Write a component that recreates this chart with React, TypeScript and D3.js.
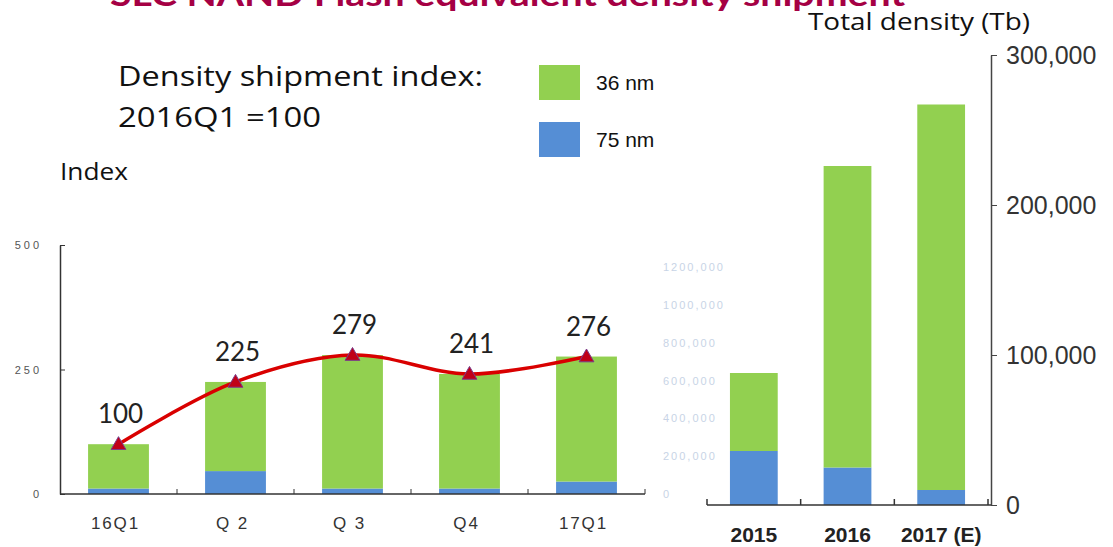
import React, { useRef, useEffect } from 'react';
import * as d3 from 'd3';

// left chart: quarterly density shipment index (2016Q1 = 100)
const quarters = ['16Q1', 'Q 2', 'Q 3', 'Q4', '17Q1'];
const quarter75 = [11, 46, 11, 11, 25];
const quarter36 = [89, 179, 268, 230, 251];
const indexValues = [100, 225, 279, 241, 276];
const leftTicks = [0, 250, 500];

// right chart: yearly total density (Tb)
const years = ['2015', '2016', '2017 (E)'];
const year75 = [36000, 25000, 10000];
const year36 = [52000, 201000, 257000];
const rightTicks = [0, 100000, 200000, 300000];

// faint leftover tick labels between the two charts
const ghostTicks = [0, 200000, 400000, 600000, 800000, 1000000, 1200000];
const ghostLabels = ['0', '200,000', '400,000', '600,000', '800,000', '1000,000', '1200,000'];

const GREEN = '#92D050';
const BLUE = '#558ED5';
const SANS = '"Open Sans", Lato, sans-serif';
const LATO = 'Lato, "Open Sans", sans-serif';
const ARIAL = '"Liberation Sans", Arial, sans-serif';

const App = () => {
    const svgRef = useRef<SVGSVGElement>(null);

    useEffect(() => {
        const svg = d3.select(svgRef.current);
        svg.selectAll('*').remove();

        // title (cut off at the top, as in the source slide)
        svg.append('text')
            .attr('x', 110).attr('y', 6)
            .attr('font-family', LATO).attr('font-weight', 'bold').attr('font-size', 32)
            .attr('fill', '#A50044')
            .attr('textLength', 795).attr('lengthAdjust', 'spacingAndGlyphs')
            .text('SLC NAND Flash equivalent density shipment');

        // annotations
        const note = svg.append('g').attr('font-family', SANS).attr('fill', '#111');
        note.append('text').attr('x', 118).attr('y', 86).attr('font-size', 28)
            .attr('textLength', 365).attr('lengthAdjust', 'spacingAndGlyphs').text('Density shipment index:');
        note.append('text').attr('x', 118).attr('y', 127).attr('font-size', 28)
            .attr('textLength', 203).attr('lengthAdjust', 'spacingAndGlyphs').text('2016Q1 =100');
        note.append('text').attr('x', 60).attr('y', 180).attr('font-size', 23)
            .attr('textLength', 68).attr('lengthAdjust', 'spacingAndGlyphs').text('Index');
        note.append('text').attr('x', 808).attr('y', 30).attr('font-size', 23)
            .attr('textLength', 222).attr('lengthAdjust', 'spacingAndGlyphs').text('Total density (Tb)');

        // legend
        const legend = svg.append('g').attr('font-family', ARIAL).attr('font-size', 21).attr('fill', '#111');
        [['36 nm', GREEN, 65], ['75 nm', BLUE, 122]].forEach(([label, color, y]) => {
            legend.append('rect').attr('x', 539).attr('y', y as number).attr('width', 41).attr('height', 35)
                .attr('fill', color as string);
            legend.append('text').attr('x', 596).attr('y', (y as number) + 25).text(label as string);
        });

        // ---- left chart ----
        const xL = d3.scaleBand().domain(quarters).range([60, 645]).paddingInner(0.48).paddingOuter(0.24);
        const yL = d3.scaleLinear().domain([0, 500]).range([494, 245]);

        const leftData = quarters.map((q, i) => ({ name: q, nm75: quarter75[i], nm36: quarter36[i] }));
        const stack = d3.stack<any>().keys(['nm75', 'nm36']);
        const leftSeries = stack(leftData);
        const colorOf = { nm75: BLUE, nm36: GREEN } as Record<string, string>;

        const gL = svg.append('g');
        leftSeries.forEach((s) => {
            gL.append('g').attr('fill', colorOf[s.key])
                .selectAll('rect').data(s).join('rect')
                .attr('x', (d: any) => xL(d.data.name)!)
                .attr('width', xL.bandwidth())
                .attr('y', (d) => yL(d[1]))
                .attr('height', (d) => yL(d[0]) - yL(d[1]));
        });

        // y axis
        const yAxisL = gL.append('g').attr('transform', 'translate(60,0)')
            .call(d3.axisLeft(yL).tickValues(leftTicks).tickSizeInner(-5).tickSizeOuter(0).tickPadding(18));
        yAxisL.select('.domain').attr('stroke', '#333').attr('stroke-width', 1.5);
        yAxisL.selectAll('.tick line').attr('stroke', '#333');
        yAxisL.selectAll('.tick text').attr('font-family', ARIAL).attr('font-size', 11)
            .attr('letter-spacing', 3).attr('fill', '#555');

        // x axis with ticks at band boundaries
        const stepL = xL.step();
        gL.append('line').attr('x1', 60).attr('x2', 645).attr('y1', 494).attr('y2', 494)
            .attr('stroke', '#333').attr('stroke-width', 1.5);
        gL.selectAll('.bound').data(quarters).join('line').attr('class', 'bound')
            .attr('x1', (d) => xL(d)! + xL.bandwidth() / 2 + stepL / 2)
            .attr('x2', (d) => xL(d)! + xL.bandwidth() / 2 + stepL / 2)
            .attr('y1', 494).attr('y2', 489).attr('stroke', '#333');
        gL.selectAll('.xlab').data(quarters).join('text').attr('class', 'xlab')
            .attr('x', (d) => xL(d)! + xL.bandwidth() / 2 - 3)
            .attr('y', 529)
            .attr('text-anchor', 'middle')
            .attr('font-family', ARIAL).attr('font-size', 17).attr('letter-spacing', 1.8)
            .attr('fill', '#333')
            .text((d) => d);

        // index line
        const pts = quarters.map((q, i) => [xL(q)! + xL.bandwidth() / 2, yL(indexValues[i])] as [number, number]);
        gL.append('path')
            .attr('d', d3.line().curve(d3.curveCatmullRom.alpha(0.5))(pts)!)
            .attr('fill', 'none').attr('stroke', '#D90000').attr('stroke-width', 3.5);
        gL.selectAll('.mark').data(pts).join('path').attr('class', 'mark')
            .attr('transform', (d) => `translate(${d[0]},${d[1] + 1})`)
            .attr('d', d3.symbol().type(d3.symbolTriangle).size(95)()!)
            .attr('fill', '#C00018').attr('stroke', '#7A3A8A').attr('stroke-width', 1);
        gL.selectAll('.val').data(indexValues).join('text').attr('class', 'val')
            .attr('x', (d, i) => pts[i][0] + 2)
            .attr('y', (d, i) => pts[i][1] - 21)
            .attr('text-anchor', 'middle')
            .attr('font-family', LATO).attr('font-size', 26).attr('fill', '#222')
            .text((d) => d);

        // ghost labels
        const yG = d3.scaleLinear().domain([0, 1200000]).range([494, 267]);
        svg.append('g').selectAll('text').data(ghostTicks).join('text')
            .attr('x', 663).attr('y', (d) => yG(d) + 4)
            .attr('font-family', ARIAL).attr('font-size', 11).attr('letter-spacing', 2)
            .attr('fill', '#C8D4E6')
            .text((d, i) => ghostLabels[i]);

        // ---- right chart ----
        const xR = d3.scaleBand().domain(years).range([707, 988]).paddingInner(0.49).paddingOuter(0.245);
        const yR = d3.scaleLinear().domain([0, 300000]).range([505, 55]);
        const rightData = years.map((y, i) => ({ name: y, nm75: year75[i], nm36: year36[i] }));
        const rightSeries = stack(rightData);

        const gR = svg.append('g');
        rightSeries.forEach((s) => {
            gR.append('g').attr('fill', colorOf[s.key])
                .selectAll('rect').data(s).join('rect')
                .attr('x', (d: any) => xR(d.data.name)!)
                .attr('width', xR.bandwidth())
                .attr('y', (d) => yR(d[1]))
                .attr('height', (d) => yR(d[0]) - yR(d[1]));
        });

        const yAxisR = gR.append('g').attr('transform', 'translate(991,0)')
            .call(d3.axisRight(yR).tickValues(rightTicks).tickSizeInner(6).tickSizeOuter(0)
                .tickPadding(9).tickFormat(d3.format(',')));
        yAxisR.select('.domain').attr('stroke', '#444').attr('stroke-width', 1.5);
        yAxisR.selectAll('.tick line').attr('stroke', '#444');
        yAxisR.selectAll('.tick text').attr('font-family', ARIAL).attr('font-size', 25).attr('fill', '#333');

        const stepR = xR.step();
        gR.append('line').attr('x1', 707).attr('x2', 991).attr('y1', 505).attr('y2', 505)
            .attr('stroke', '#333').attr('stroke-width', 1.5);
        gR.append('line').attr('x1', 707).attr('x2', 707).attr('y1', 505).attr('y2', 499)
            .attr('stroke', '#333').attr('stroke-width', 1.5);
        gR.selectAll('.bound').data(years).join('line').attr('class', 'bound')
            .attr('x1', (d) => xR(d)! + xR.bandwidth() / 2 + stepR / 2)
            .attr('x2', (d) => xR(d)! + xR.bandwidth() / 2 + stepR / 2)
            .attr('y1', 505).attr('y2', 499).attr('stroke', '#333').attr('stroke-width', 1.5);
        gR.selectAll('.xlab').data(years).join('text').attr('class', 'xlab')
            .attr('x', (d) => xR(d)! + xR.bandwidth() / 2)
            .attr('y', 542)
            .attr('text-anchor', 'middle')
            .attr('font-family', ARIAL).attr('font-weight', 'bold').attr('font-size', 21)
            .attr('fill', '#222')
            .text((d) => d);
    }, []);

    return (
        <svg ref={svgRef} width={1113} height={547}
            style={{ position: 'absolute', left: 0, top: 0, background: '#fff' }} />
    );
};

export default App;
